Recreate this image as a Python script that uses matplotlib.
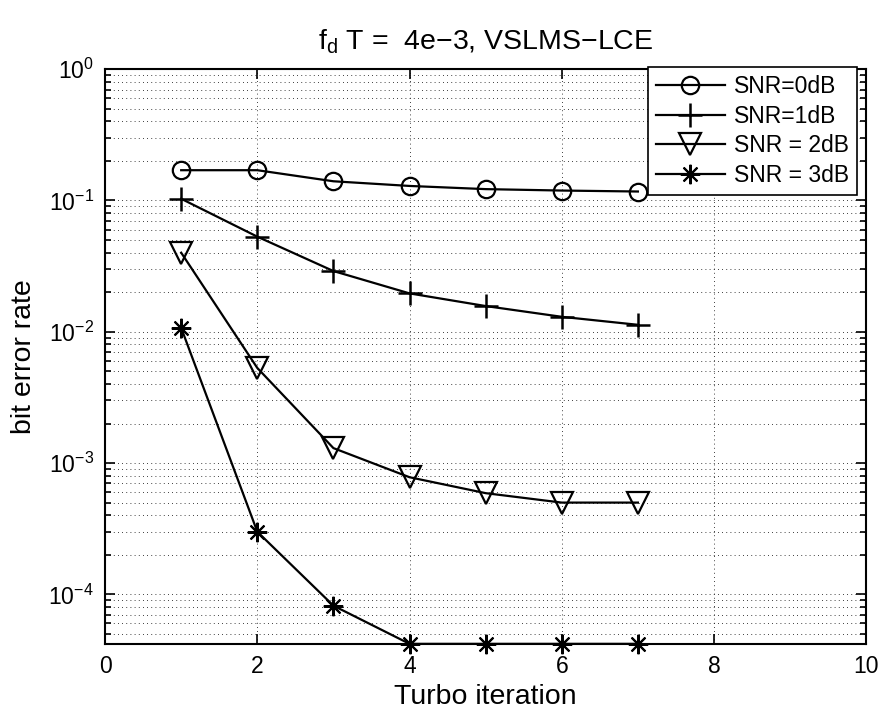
import numpy as np
import matplotlib
matplotlib.use('Agg')
import matplotlib.pyplot as plt
from matplotlib.ticker import LogLocator, NullFormatter, FixedLocator

plt.rcParams['font.family'] = ['Liberation Sans', 'DejaVu Sans']
plt.rcParams['mathtext.fontset'] = 'custom'
plt.rcParams['mathtext.rm'] = 'Liberation Sans'
plt.rcParams['mathtext.it'] = 'Liberation Sans'
plt.rcParams['axes.unicode_minus'] = True

# data
iterations = [1, 2, 3, 4, 5, 6, 7]
ber_snr0 = [0.17, 0.17, 0.14, 0.129, 0.122, 0.119, 0.117]
ber_snr1 = [0.103, 0.053, 0.029, 0.0196, 0.0157, 0.013, 0.0113]
ber_snr2 = [0.040, 0.0053, 0.0013, 7.8e-4, 5.9e-4, 5.0e-4, 5.0e-4]
ber_snr3 = [0.0107, 3.0e-4, 8.2e-5, 4.2e-5, 4.2e-5, 4.2e-5, 4.2e-5]
labels = ['SNR=0dB', 'SNR=1dB', 'SNR = 2dB', 'SNR = 3dB']
xticks = [0, 2, 4, 6, 8, 10]

fig = plt.figure(figsize=(8.83, 7.13), dpi=100)
ax = fig.add_axes([0.119, 0.097, 0.862, 0.806])

lw = 1.6
ax.semilogy(iterations, ber_snr0, '-', marker='o', color='k', lw=lw, ms=12.5,
            mfc='none', mew=1.6, label=labels[0], clip_on=False)
ax.semilogy(iterations, ber_snr1, '-', marker='+', color='k', lw=lw, ms=17,
            mew=1.8, label=labels[1], clip_on=False)
ax.semilogy(iterations, ber_snr2, '-', marker='v', color='k', lw=lw, ms=15.5,
            mfc='none', mew=1.6, label=labels[2], clip_on=False)
ax.semilogy(iterations, ber_snr3, '-', marker=(8, 2, 0), color='k', lw=lw,
            ms=14, mew=1.5, label=labels[3], clip_on=False)

ax.set_xlim(0, 10)
ax.set_ylim(4.2e-5, 1)
ax.xaxis.set_major_locator(FixedLocator(xticks))
ax.yaxis.set_major_locator(LogLocator(base=10, numticks=10))
ax.yaxis.set_minor_locator(LogLocator(base=10, subs=np.arange(2, 10), numticks=20))
ax.yaxis.set_minor_formatter(NullFormatter())

# matlab-ish grid and ticks
dots = (0, (1, 4))
ax.grid(True, which='major', axis='both', color='k', lw=0.6, ls=dots)
ax.grid(True, which='minor', axis='y', color='k', lw=0.6, ls=dots)
ax.tick_params(which='both', direction='in', top=True, right=True,
               labelsize=16.5, width=1.2, color='k')
ax.tick_params(which='major', length=7, pad=8)
ax.tick_params(which='minor', length=4)
for s in ax.spines.values():
    s.set_linewidth(1.5)

ax.set_xlabel('Turbo iteration', fontsize=20.5, labelpad=4)
ax.set_ylabel('bit error rate', fontsize=20.5, labelpad=8)
ax.set_title(r'f$_\mathrm{d}$ T =  4e−3, VSLMS−LCE', fontsize=20.5, pad=14)

leg = ax.legend(loc='upper right', bbox_to_anchor=(0.988, 1.003), fontsize=16.5,
                fancybox=False, edgecolor='k', framealpha=1, handlelength=3.0,
                borderpad=0.35, labelspacing=0.28, handletextpad=0.4,
                borderaxespad=0)
leg.get_frame().set_linewidth(1.2)

fig.savefig('out.png', dpi=100)
